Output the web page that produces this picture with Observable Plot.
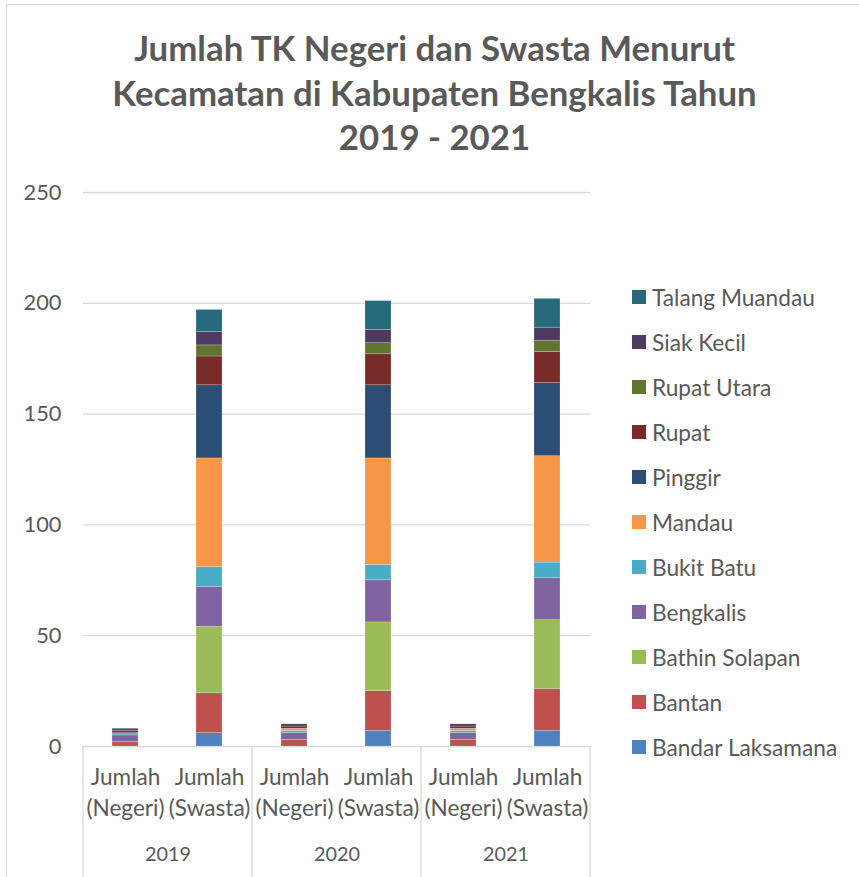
<!DOCTYPE html>
<html><head><meta charset="utf-8">
<script src="https://cdn.jsdelivr.net/npm/d3@7"></script>
<script src="https://cdn.jsdelivr.net/npm/@observablehq/plot@0.6"></script>
<style>
html,body{margin:0;padding:0;background:#fff;}
#wrap{position:relative;width:859px;height:877px;overflow:hidden;font-family:Lato,sans-serif;color:#595959;}
#border{position:absolute;left:6px;top:4px;width:900px;height:900px;border:1px solid #d9d9d9;box-sizing:border-box;}
#chart{position:absolute;left:0;top:0;}
#title{position:absolute;left:0;top:26px;width:869px;text-align:center;font-weight:700;color:#595959;}
#legend{position:absolute;left:632px;top:0;}
.item{position:absolute;left:0;height:24px;display:flex;align-items:center;white-space:nowrap;color:#595959;}
.sw{width:14px;height:14px;margin-right:6px;flex:none;}
</style></head><body>
<div id="wrap"><div id="border"></div><div id="chart"></div><div id="title"></div><div id="legend"></div></div>
<script>
const kecamatan = ["Bandar Laksamana","Bantan","Bathin Solapan","Bengkalis","Bukit Batu","Mandau","Pinggir","Rupat","Rupat Utara","Siak Kecil","Talang Muandau"];
const warna = ["#4F81BD","#C0504D","#9BBB59","#8064A2","#4BACC6","#F79646","#2C4D75","#772C2A","#5F7530","#4D3B62","#276A7C"];
const tahun = ["2019","2020","2021"];
const jenis = ["Negeri","Swasta"];
const negeri2019 = [0,2,0,3,1,0,0,1,0,1,0];
const swasta2019 = [6,18,30,18,9,49,33,13,5,6,10];
const negeri2020 = [0,3,0,3,1,1,0,1,0,1,0];
const swasta2020 = [7,18,31,19,7,48,33,14,5,6,13];
const negeri2021 = [0,3,0,3,1,1,0,1,0,1,0];
const swasta2021 = [7,19,31,19,7,48,33,14,5,6,13];
const yTicks = [0,50,100,150,200,250];
const titleLines = ["Jumlah TK Negeri dan Swasta Menurut","Kecamatan di Kabupaten Bengkalis Tahun","2019 - 2021"];

const series = [
  ["2019","Negeri",negeri2019],["2019","Swasta",swasta2019],
  ["2020","Negeri",negeri2020],["2020","Swasta",swasta2020],
  ["2021","Negeri",negeri2021],["2021","Swasta",swasta2021]
];
const data = [];
for (const [t, j, vals] of series) vals.forEach((v, i) => { if (v > 0) data.push({tahun: t, jenis: j, kecamatan: kecamatan[i], jumlah: v}); });

const ctx = document.createElement("canvas").getContext("2d");
function fit(text, target, weight = "400") { ctx.font = `${weight} 100px Lato`; return 100 * target / ctx.measureText(text).width; }
const titleSize = fit(titleLines[0], 602, "700");
const ySize = fit("250", 38);
const xSize = fit("Jumlah", 69.6);
const fxSize = fit("2019", 46);
const legSize = fit("Talang Muandau", 163);

const title = document.getElementById("title");
title.style.fontSize = titleSize + "px";
title.style.lineHeight = "44.5px";
title.innerHTML = titleLines.map(s => `<div>${s}</div>`).join("");

const plot = Plot.plot({
  width: 600, height: 877,
  marginTop: 192, marginBottom: 131, marginLeft: 83, marginRight: 10,
  style: {fontFamily: "Lato, sans-serif", color: "#595959", background: "transparent", overflow: "visible"},
  fx: {domain: tahun, padding: 0, label: null},
  x: {domain: jenis, paddingInner: 0.69, paddingOuter: 0.345, label: null},
  y: {domain: [0, 250], label: null},
  color: {domain: kecamatan, range: warna},
  marks: [
    Plot.gridY(yTicks, {stroke: "#d9d9d9", strokeOpacity: 1, strokeWidth: 1.3}),
    Plot.barY(data, {fx: "tahun", x: "jenis", y: "jumlah", fill: "kecamatan", z: "kecamatan", stroke: "#fff", strokeOpacity: 0.35, strokeWidth: 0.6}),
    Plot.axisY(yTicks, {tickSize: 0, tickPadding: 22, fontSize: ySize, label: null}),
    Plot.axisX({tickSize: 0, tickPadding: 16, fontSize: xSize, lineHeight: 31 / xSize, tickFormat: d => `Jumlah\n(${d})`, label: null}),
    Plot.axisFx({anchor: "bottom", tickSize: 0, tickPadding: 100, fontSize: fxSize, label: null})
  ]
});
document.getElementById("chart").appendChild(plot);

// separators below the axis at facet boundaries
const fx = plot.scale("fx"), ys = plot.scale("y");
const y0 = ys.apply(0);
const bounds = tahun.map(t => fx.apply(t)).concat([fx.apply(tahun[tahun.length - 1]) + fx.bandwidth]);
const svg = d3.select(plot);
svg.append("g").selectAll("line").data(bounds).join("line")
  .attr("x1", d => d).attr("x2", d => d).attr("y1", y0).attr("y2", 877)
  .attr("stroke", "#d9d9d9").attr("stroke-width", 1.3);

const legend = document.getElementById("legend");
kecamatan.slice().reverse().forEach((k, i) => {
  const idx = kecamatan.indexOf(k);
  const div = document.createElement("div");
  div.className = "item";
  div.style.top = (297 + 45 * i - 12) + "px";
  div.style.fontSize = legSize + "px";
  div.innerHTML = `<span class="sw" style="background:${warna[idx]}"></span><span>${k}</span>`;
  legend.appendChild(div);
});
</script>
</body></html>
